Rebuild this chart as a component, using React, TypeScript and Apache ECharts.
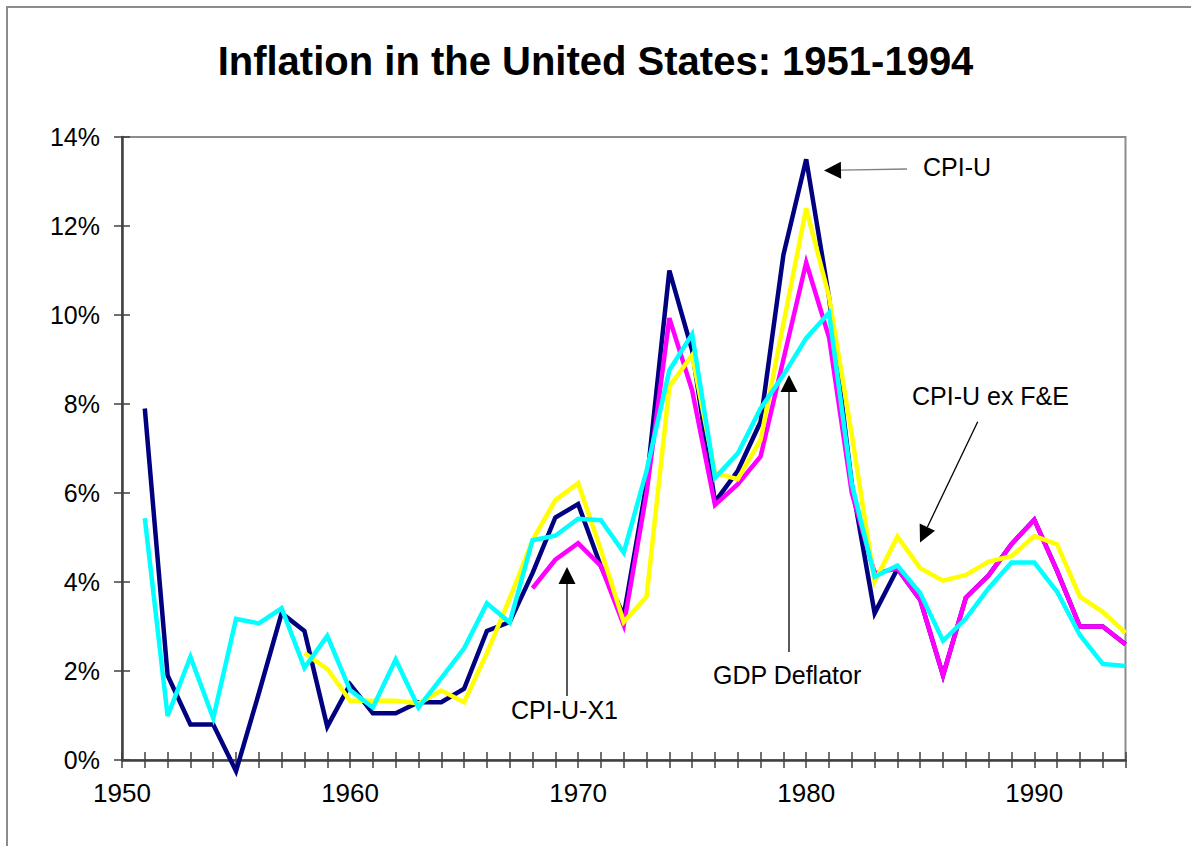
import React, { useEffect, useRef } from 'react';
import * as echarts from 'echarts';

const YEARS = [
  1951, 1952, 1953, 1954, 1955, 1956, 1957, 1958, 1959, 1960,
  1961, 1962, 1963, 1964, 1965, 1966, 1967, 1968, 1969, 1970,
  1971, 1972, 1973, 1974, 1975, 1976, 1977, 1978, 1979, 1980,
  1981, 1982, 1983, 1984, 1985, 1986, 1987, 1988, 1989, 1990,
  1991, 1992, 1993, 1994,
];

const CPI_U = [
  7.9, 1.9, 0.8, 0.8, -0.25, 1.5, 3.3, 2.9, 0.75, 1.7,
  1.05, 1.05, 1.3, 1.3, 1.6, 2.9, 3.1, 4.2, 5.45, 5.75,
  4.35, 3.25, 6.2, 11.0, 9.2, 5.8, 6.5, 7.6, 11.35, 13.5,
  10.4, 6.2, 3.3, 4.3, 3.6, 1.9, 3.65, 4.15, 4.85, 5.4,
  4.25, 3.0, 3.0, 2.6,
];

const CPI_U_X1 = [
  null, null, null, null, null, null, null, null, null, null,
  null, null, null, null, null, null, null, 3.86, 4.5, 4.87,
  4.36, 3.03, 6.0, 9.93, 8.3, 5.73, 6.2, 6.82, 9.0, 11.18,
  9.5, 6.0, 4.2, 4.3, 3.6, 1.9, 3.65, 4.15, 4.85, 5.4,
  4.25, 3.0, 3.0, 2.6,
];

const CPI_U_EX_FE = [
  null, null, null, null, null, null, null, 2.4, 2.05, 1.33,
  1.33, 1.33, 1.27, 1.56, 1.3, 2.4, 3.63, 4.94, 5.84, 6.22,
  4.72, 3.1, 3.67, 8.39, 9.1, 6.45, 6.31, 7.2, 9.8, 12.4,
  10.41, 7.3, 4.01, 5.02, 4.31, 4.03, 4.16, 4.46, 4.58, 5.03,
  4.85, 3.67, 3.33, 2.86,
];

const GDP_DEFLATOR = [
  5.43, 0.99, 2.32, 0.94, 3.17, 3.07, 3.41, 2.07, 2.79, 1.57,
  1.18, 2.26, 1.18, 1.84, 2.51, 3.52, 3.09, 4.94, 5.04, 5.42,
  5.39, 4.66, 6.5, 8.76, 9.57, 6.34, 6.89, 7.9, 8.65, 9.48,
  10.05, 6.2, 4.12, 4.37, 3.75, 2.68, 3.18, 3.86, 4.44, 4.44,
  3.78, 2.81, 2.16, 2.11,
];

const SERIES_NAMES = ['CPI-U', 'CPI-U-X1', 'CPI-U ex F&E', 'GDP Deflator'];
const SERIES_COLORS = ['#000080', '#FF00FF', '#FFFF00', '#00FFFF'];

const X_MIN = 1950;
const X_MAX = 1994;
const Y_MIN = 0;
const Y_MAX = 14;
const Y_STEP = 2;

const FONT = '"Liberation Sans", Arial, Helvetica, sans-serif';

function pairs(values: (number | null)[]) {
  const out: [number, number][] = [];
  values.forEach((v, i) => {
    if (v !== null && v !== undefined) out.push([YEARS[i], v]);
  });
  return out;
}

function arrow(tail: [number, number], tip: [number, number], color: string, headLen = 17, halfW = 8.5) {
  const dx = tip[0] - tail[0];
  const dy = tip[1] - tail[1];
  const len = Math.sqrt(dx * dx + dy * dy);
  const ux = dx / len;
  const uy = dy / len;
  const bx = tip[0] - ux * headLen;
  const by = tip[1] - uy * headLen;
  const nx = -uy;
  const ny = ux;
  return [
    {
      type: 'line',
      z: 100,
      shape: { x1: tail[0], y1: tail[1], x2: bx, y2: by },
      style: { stroke: color, lineWidth: 1.3 },
    },
    {
      type: 'polygon',
      z: 100,
      shape: {
        points: [
          [tip[0], tip[1]],
          [bx + nx * halfW, by + ny * halfW],
          [bx - nx * halfW, by - ny * halfW],
        ],
      },
      style: { fill: '#000000' },
    },
  ];
}

function label(text: string, x: number, y: number) {
  return {
    type: 'text',
    z: 100,
    x,
    y,
    style: {
      text,
      fill: '#000000',
      font: `25px ${FONT}`,
      textAlign: 'left',
      textVerticalAlign: 'middle',
    },
  };
}

export default function App() {
  const ref = useRef<HTMLDivElement>(null);

  useEffect(() => {
    document.body.style.margin = '0';
    const chart = echarts.init(ref.current!, undefined, { renderer: 'svg' });

    const xBase = {
      type: 'value',
      min: X_MIN,
      max: X_MAX,
      interval: 1,
      position: 'bottom',
      splitLine: { show: false },
    };
    const yBase = {
      type: 'value',
      min: Y_MIN,
      max: Y_MAX,
      interval: Y_STEP,
      position: 'left',
      splitLine: { show: false },
    };

    const option = {
      animation: false,
      backgroundColor: '#ffffff',
      title: {
        text: 'Inflation in the United States: 1951-1994',
        left: 'center',
        top: 36,
        textStyle: {
          fontFamily: FONT,
          fontSize: 40,
          fontWeight: 'bold',
          color: '#000000',
        },
      },
      grid: {
        left: 122,
        top: 137,
        right: 65.5,
        bottom: 86,
        show: true,
        borderColor: '#8c8c8c',
        borderWidth: 2,
        backgroundColor: 'transparent',
      },
      xAxis: [
        {
          ...xBase,
          axisLine: { show: true, lineStyle: { color: '#404040', width: 2.5 } },
          axisTick: { show: true, length: 8, lineStyle: { color: '#404040', width: 1.5 } },
          axisLabel: {
            show: true,
            margin: 20,
            color: '#000000',
            fontFamily: FONT,
            fontSize: 26,
            formatter: (v: number) => (v % 10 === 0 ? String(v) : ''),
          },
        },
        {
          ...xBase,
          axisLine: { show: false },
          axisTick: { show: true, inside: true, length: 8, lineStyle: { color: '#404040', width: 1.5 } },
          axisLabel: { show: false },
        },
      ],
      yAxis: [
        {
          ...yBase,
          axisLine: { show: true, lineStyle: { color: '#404040', width: 2.5 } },
          axisTick: { show: true, length: 8, lineStyle: { color: '#404040', width: 1.5 } },
          axisLabel: {
            show: true,
            margin: 22,
            color: '#000000',
            fontFamily: FONT,
            fontSize: 25,
            formatter: '{value}%',
          },
        },
        {
          ...yBase,
          axisLine: { show: false },
          axisTick: { show: true, inside: true, length: 8, lineStyle: { color: '#404040', width: 1.5 } },
          axisLabel: { show: false },
        },
      ],
      series: [CPI_U, CPI_U_X1, CPI_U_EX_FE, GDP_DEFLATOR].map((vals, i) => ({
        type: 'line',
        name: SERIES_NAMES[i],
        data: pairs(vals),
        xAxisIndex: 0,
        yAxisIndex: 0,
        symbol: 'none',
        showSymbol: false,
        clip: false,
        lineStyle: { color: SERIES_COLORS[i], width: 4.5, join: 'miter', cap: 'butt' },
        itemStyle: { color: SERIES_COLORS[i] },
        z: 2 + i,
      })),
      graphic: [
        {
          type: 'rect',
          z: 100,
          shape: { x: 7, y: 7, width: 1400, height: 1100 },
          style: { fill: 'none', stroke: '#8c8c8c', lineWidth: 2 },
        },
        label('CPI-U', 923, 167),
        ...arrow([907, 169], [824, 170.5], '#808080'),
        label('CPI-U-X1', 511, 710),
        ...arrow([567, 696], [567, 567], '#000000'),
        label('GDP Deflator', 713, 675),
        ...arrow([789, 652], [789, 375], '#000000'),
        label('CPI-U ex F&E', 912, 396),
        ...arrow([977.7, 421.7], [920, 542.5], '#000000'),
      ],
    };

    chart.setOption(option as any);
    return () => chart.dispose();
  }, []);

  return (
    <div
      ref={ref}
      style={{ position: 'fixed', left: 0, top: 0, width: 1191, height: 846, background: '#ffffff' }}
    />
  );
}
